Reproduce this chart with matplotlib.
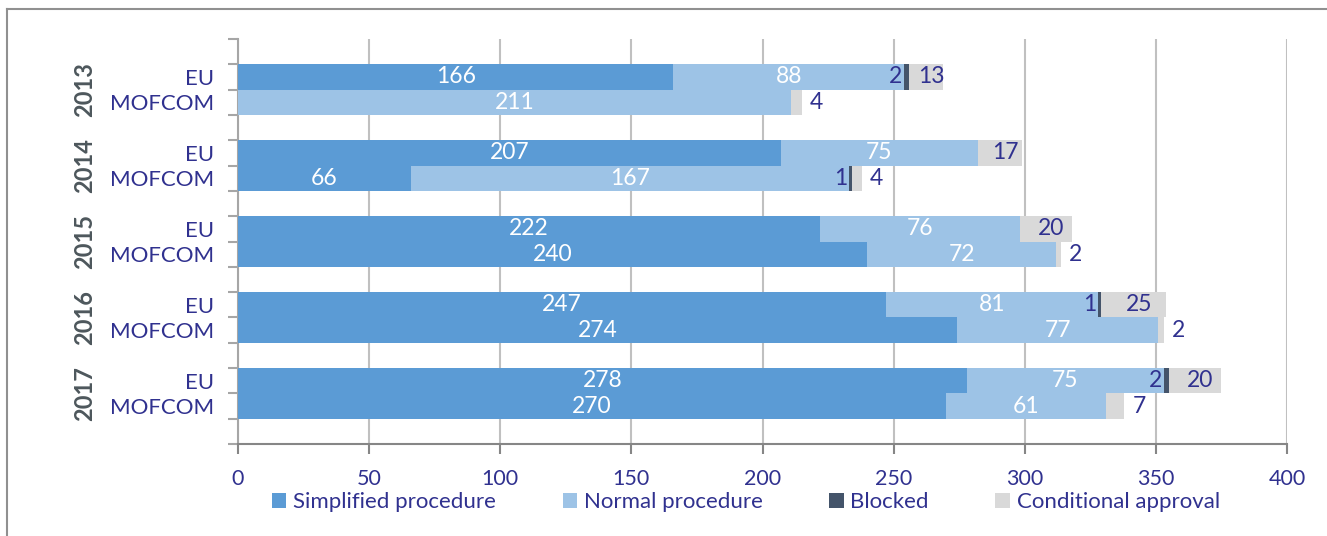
import matplotlib.pyplot as plt
import numpy as np
from matplotlib.lines import Line2D
from matplotlib.patches import Patch

plt.rcParams['font.family'] = ['Lato', 'DejaVu Sans']

years = ['2013', '2014', '2015', '2016', '2017']
authorities = ['EU', 'MOFCOM']

# values per (year, authority): EU first, then MOFCOM
simplified = [[166, 0], [207, 66], [222, 240], [247, 274], [278, 270]]
normal = [[88, 211], [75, 167], [76, 72], [81, 77], [75, 61]]
blocked = [[2, 0], [0, 1], [0, 0], [1, 0], [2, 0]]
conditional = [[13, 4], [17, 4], [20, 2], [25, 2], [20, 7]]

series_names = ['Simplified procedure', 'Normal procedure', 'Blocked', 'Conditional approval']
colors = ['#5b9bd5', '#9dc3e6', '#44546a', '#d9d9d9']
txt_blue = '#30318f'
lbl_size = 16.5

fig = plt.figure(figsize=(13.27, 5.36), dpi=100)
ax = fig.add_axes([238/1327, 1-444/536, (1287-238)/1327, (444-39)/536])

rows_y = []
for g in range(len(years)):
    for a in range(2):
        y = 3*g + 1 + a + 0.5
        rows_y.append(y)
        vals = [simplified[g][a], normal[g][a], blocked[g][a], conditional[g][a]]
        left = 0
        for k, v in enumerate(vals):
            if v > 0:
                ax.barh(y, v, left=left, height=1.0, color=colors[k], zorder=3)
                if k < 2:
                    ax.text(left + v/2, y, str(v), ha='center', va='center',
                            color='white', fontsize=lbl_size, zorder=4)
                elif k == 2:
                    ax.text(left - 0.8, y, str(v), ha='right', va='center',
                            color=txt_blue, fontsize=lbl_size, zorder=4)
                else:
                    if a == 0:
                        ax.text(left + v/2 + 2, y, str(v), ha='center', va='center',
                                color=txt_blue, fontsize=lbl_size, zorder=4)
                    else:
                        ax.text(left + v + 3, y, str(v), ha='left', va='center',
                                color=txt_blue, fontsize=lbl_size, zorder=4)
            left += v

ax.set_xlim(0, 400)
ax.set_ylim(16, 0)
ax.set_xticks(np.arange(0, 401, 50))
ax.tick_params(axis='x', colors='#868686', labelcolor=txt_blue, labelsize=15.5,
               length=7, width=1.5, pad=11)
ax.set_yticks(rows_y)
ax.set_yticklabels(authorities * len(years))
ax.set_yticks(np.arange(0, 17, 1), minor=True)
ax.tick_params(axis='y', which='major', length=0, labelcolor=txt_blue, labelsize=16, pad=17.5)
ax.tick_params(axis='y', which='minor', length=7, width=1.5, color='#a6a6a6')

ax.grid(axis='x', color='#c0c0c0', linewidth=1.5, zorder=0)
for s in ['top', 'right']:
    ax.spines[s].set_visible(False)
ax.spines['bottom'].set_color('#868686')
ax.spines['bottom'].set_linewidth(1.5)
ax.spines['left'].set_color('#a6a6a6')
ax.spines['left'].set_linewidth(1.5)

for g, yr in enumerate(years):
    ax.text(-58.5, 3*g + 2, yr, rotation=90, ha='center', va='center',
            fontsize=17, fontweight='bold', color='#4d575c', clip_on=False)

handles = [Patch(facecolor=c, edgecolor='none') for c in colors]
fig.legend(handles, series_names, loc='center', bbox_to_anchor=(0.562, 1-502/536),
           ncol=4, frameon=False, fontsize=16, handlelength=0.65, handleheight=0.65,
           handletextpad=0.3, columnspacing=3.0, labelcolor=txt_blue)

# outer chart frame (only top and left visible in the crop)
fig.add_artist(Line2D([7/1327, 1], [1-9/536, 1-9/536], color='#909090', lw=1.5,
                      transform=fig.transFigure))
fig.add_artist(Line2D([7/1327, 7/1327], [0, 1-9/536], color='#909090', lw=1.5,
                      transform=fig.transFigure))

fig.savefig('out.png', dpi=100)
